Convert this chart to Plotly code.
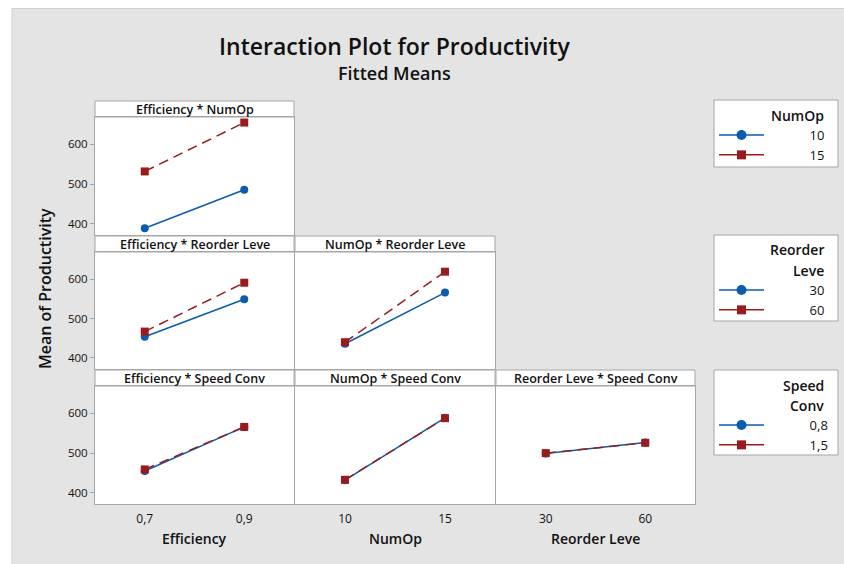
import plotly.graph_objects as go

# ---------------- data ----------------
eff_levels = [0.7, 0.9]
eff_ticktext = ["0,7", "0,9"]
numop_levels = [10, 15]
numop_ticktext = ["10", "15"]
reorder_levels = [30, 60]
reorder_ticktext = ["30", "60"]

numop_labels = ["10", "15"]
reorder_labels = ["30", "60"]
speed_labels = ["0,8", "1,5"]

# Efficiency * NumOp  (trace = NumOp level)
eff_numop_10 = [389, 486]
eff_numop_15 = [532, 655]
# Efficiency * Reorder Leve (trace = Reorder level)
eff_reorder_30 = [454, 549]
eff_reorder_60 = [467, 591]
# NumOp * Reorder Leve
numop_reorder_30 = [436, 566]
numop_reorder_60 = [440, 619]
# Efficiency * Speed Conv (trace = Speed level)
eff_speed_08 = [455, 566]
eff_speed_15 = [459, 566]
# NumOp * Speed Conv
numop_speed_08 = [432, 589]
numop_speed_15 = [433, 588]
# Reorder Leve * Speed Conv
reorder_speed_08 = [499, 527]
reorder_speed_15 = [500, 526]

y_ticks = [400, 500, 600]
y_range = [372, 669]

# ---------------- styling / layout helpers ----------------
W, H = 844, 564
FONT = "Open Sans"
BLUE = "#0B5CAD"
RED = "#9A1B1E"
BORDER = "#A6A6A6"
BG = "#E4E4E4"
TXT = "#111111"
PAD = "\u2007" * 5 + "\u2008"   # pushes legend labels to the right, like the original


def px(x):
    return x / W


def py(y):
    return 1 - y / H


cols = {1: (95, 294), 2: (295, 495), 3: (496, 695)}
rows = {1: (117, 235), 2: (252, 369), 3: (386, 504)}
head = {1: (101, 117), 2: (236, 252), 3: (370, 386)}

panels = [
    dict(r=1, c=1, title="Efficiency * NumOp", xv=eff_levels, xt=eff_ticktext, xr=[0.6, 1.0],
         ys=[eff_numop_10, eff_numop_15], names=numop_labels, legend="legend"),
    dict(r=2, c=1, title="Efficiency * Reorder Leve", xv=eff_levels, xt=eff_ticktext, xr=[0.6, 1.0],
         ys=[eff_reorder_30, eff_reorder_60], names=reorder_labels, legend="legend2"),
    dict(r=2, c=2, title="NumOp * Reorder Leve", xv=numop_levels, xt=numop_ticktext, xr=[7.5, 17.5],
         ys=[numop_reorder_30, numop_reorder_60], names=reorder_labels, legend="legend2"),
    dict(r=3, c=1, title="Efficiency * Speed Conv", xv=eff_levels, xt=eff_ticktext, xr=[0.6, 1.0],
         ys=[eff_speed_08, eff_speed_15], names=speed_labels, legend="legend3"),
    dict(r=3, c=2, title="NumOp * Speed Conv", xv=numop_levels, xt=numop_ticktext, xr=[7.5, 17.5],
         ys=[numop_speed_08, numop_speed_15], names=speed_labels, legend="legend3"),
    dict(r=3, c=3, title="Reorder Leve * Speed Conv", xv=reorder_levels, xt=reorder_ticktext, xr=[15, 75],
         ys=[reorder_speed_08, reorder_speed_15], names=speed_labels, legend="legend3"),
]

fig = go.Figure()
layout = {}
shapes = []
annotations = []
shown = set()

line_styles = [dict(color=BLUE, width=1.5), dict(color=RED, width=1.5, dash="10px,6px")]
marker_styles = [dict(symbol="circle", size=8, color=BLUE), dict(symbol="square", size=8, color=RED)]

for i, p in enumerate(panels, start=1):
    xa = "x" if i == 1 else f"x{i}"
    ya = "y" if i == 1 else f"y{i}"
    xkey = "xaxis" if i == 1 else f"xaxis{i}"
    ykey = "yaxis" if i == 1 else f"yaxis{i}"
    c0, c1 = cols[p["c"]]
    r0, r1 = rows[p["r"]]
    layout[xkey] = dict(
        domain=[px(c0), px(c1)], range=p["xr"], anchor=ya,
        tickvals=p["xv"], ticktext=p["xt"], showticklabels=(p["r"] == 3),
        showgrid=False, zeroline=False, showline=True, mirror=True,
        linecolor=BORDER, linewidth=1, ticks="outside", ticklen=4, tickcolor="rgba(0,0,0,0)",
        tickfont=dict(family=FONT, size=12, color=TXT),
    )
    layout[ykey] = dict(
        domain=[py(r1), py(r0)], range=y_range, anchor=xa,
        tickvals=y_ticks, showticklabels=(p["c"] == 1),
        ticks="outside" if p["c"] == 1 else "", ticklen=4, tickcolor=BORDER,
        showgrid=False, zeroline=False, showline=True, mirror=True,
        linecolor=BORDER, linewidth=1,
        tickfont=dict(family=FONT, size=11.5, color=TXT),
    )
    for k, (yvals, name) in enumerate(zip(p["ys"], p["names"])):
        fig.add_trace(go.Scatter(
            x=p["xv"], y=yvals, name=name, mode="lines+markers",
            xaxis=xa, yaxis=ya, showlegend=False,
            line=line_styles[k], marker=marker_styles[k],
        ))
    if p["legend"] not in shown:
        # legend entries (solid line + larger symbol, as in the original key)
        for k, name in enumerate(p["names"]):
            fig.add_trace(go.Scatter(
                x=[None], y=[None], name=PAD + name, mode="lines+markers",
                xaxis=xa, yaxis=ya, legend=p["legend"], showlegend=True,
                line=dict(color=line_styles[k]["color"], width=1.5),
                marker=dict(symbol=marker_styles[k]["symbol"], size=10 if k == 0 else 9,
                            color=line_styles[k]["color"]),
            ))
        shown.add(p["legend"])
    # header box
    h0, h1 = head[p["r"]]
    shapes.append(dict(type="rect", xref="paper", yref="paper",
                       x0=px(c0), x1=px(c1), y0=py(h1), y1=py(h0),
                       fillcolor="white", line=dict(color=BORDER, width=1), layer="below"))
    annotations.append(dict(text=p["title"], xref="paper", yref="paper",
                            x=px((c0 + c1) / 2), y=py((h0 + h1) / 2), xanchor="center", yanchor="middle",
                            showarrow=False, font=dict(family=FONT, size=12.5, color=TXT, weight=600)))

# white strips on the left / top + thin frame
shapes.append(dict(type="rect", xref="paper", yref="paper", x0=0, x1=px(12), y0=0, y1=1,
                   fillcolor="white", line=dict(width=0), layer="below"))
shapes.append(dict(type="rect", xref="paper", yref="paper", x0=0, x1=1, y0=py(8), y1=1,
                   fillcolor="white", line=dict(width=0), layer="below"))
shapes.append(dict(type="line", xref="paper", yref="paper", x0=px(12), x1=px(12), y0=0, y1=py(8),
                   line=dict(color="#CFCFCF", width=1), layer="below"))
shapes.append(dict(type="line", xref="paper", yref="paper", x0=px(12), x1=1, y0=py(8.5), y1=py(8.5),
                   line=dict(color="#CFCFCF", width=1), layer="below"))

# legend boxes
leg_boxes = [(100, 167), (235, 321), (370, 455)]
for (t, b) in leg_boxes:
    shapes.append(dict(type="rect", xref="paper", yref="paper", x0=px(714), x1=px(838),
                       y0=py(b), y1=py(t), fillcolor="white", line=dict(color=BORDER, width=1), layer="below"))

# legend titles
leg_titles = [("NumOp", 115), ("Reorder", 250), ("Leve", 270), ("Speed", 385), ("Conv", 405)]
for txt, yy in leg_titles:
    annotations.append(dict(text=txt, xref="paper", yref="paper", x=px(826), y=py(yy),
                            xanchor="right", yanchor="middle", showarrow=False,
                            font=dict(family=FONT, size=14, color=TXT, weight=600)))

# titles
annotations.append(dict(text="Interaction Plot for Productivity", xref="paper", yref="paper",
                        x=px(394), y=py(46), xanchor="center", yanchor="middle", showarrow=False,
                        font=dict(family=FONT, size=23, color=TXT, weight=600)))
annotations.append(dict(text="Fitted Means", xref="paper", yref="paper",
                        x=px(394), y=py(73), xanchor="center", yanchor="middle", showarrow=False,
                        font=dict(family=FONT, size=18, color=TXT, weight=600)))
annotations.append(dict(text="Mean of Productivity", xref="paper", yref="paper",
                        x=px(45), y=py(289), xanchor="center", yanchor="middle", showarrow=False,
                        textangle=-90, font=dict(family=FONT, size=16, color=TXT, weight=600)))
for txt, c in [("Efficiency", 1), ("NumOp", 2), ("Reorder Leve", 3)]:
    c0, c1 = cols[c]
    annotations.append(dict(text=txt, xref="paper", yref="paper",
                            x=px((c0 + c1) / 2), y=py(538), xanchor="center", yanchor="middle",
                            showarrow=False, font=dict(family=FONT, size=14, color=TXT, weight=600)))

leg_common = dict(xanchor="left", yanchor="top", bgcolor="rgba(0,0,0,0)", borderwidth=0,
                  font=dict(family=FONT, size=13, color=TXT), itemwidth=45, tracegroupgap=0)

fig.update_layout(
    width=W, height=H, margin=dict(l=0, r=0, t=0, b=0),
    paper_bgcolor=BG, plot_bgcolor="white",
    font=dict(family=FONT, color=TXT),
    shapes=shapes, annotations=annotations,
    legend=dict(x=px(714), y=py(120), **leg_common),
    legend2=dict(x=px(714), y=py(275), **leg_common),
    legend3=dict(x=px(714), y=py(410), **leg_common),
    **layout,
)

fig.write_html(
    "out.html",
    config={"displayModeBar": False},
    post_script="document.body.style.margin='0';document.body.style.overflow='hidden';",
)
